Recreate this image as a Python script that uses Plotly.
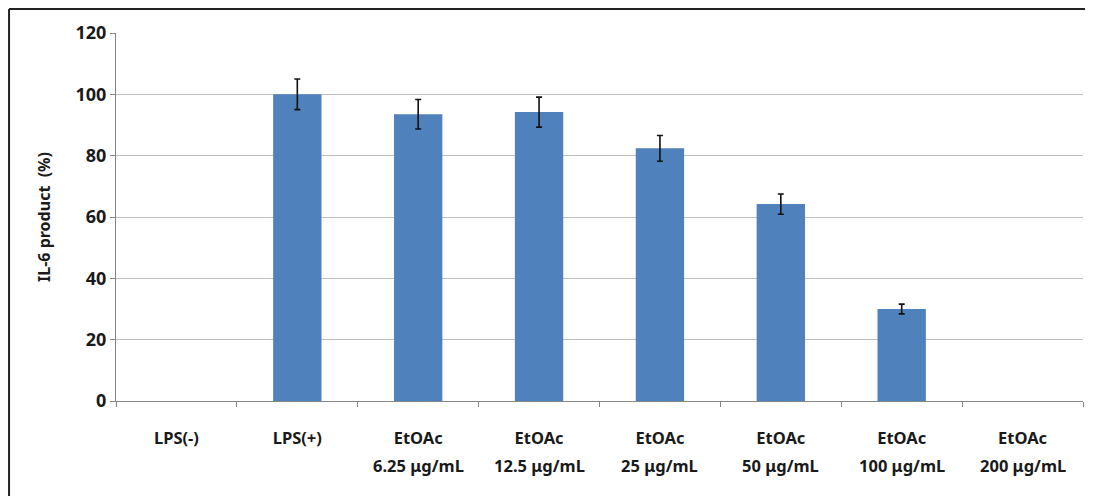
import plotly.graph_objects as go

# data
line1 = ["LPS(-)", "LPS(+)", "EtOAc", "EtOAc", "EtOAc", "EtOAc", "EtOAc", "EtOAc"]
line2 = ["", "", "6.25 μg/mL", "12.5 μg/mL", "25 μg/mL", "50 μg/mL", "100 μg/mL", "200 μg/mL"]
categories = ["LPS(-)", "LPS(+)", "EtOAc 6.25", "EtOAc 12.5", "EtOAc 25",
              "EtOAc 50", "EtOAc 100", "EtOAc 200"]
il6 = [0, 100, 93.5, 94.2, 82.4, 64.2, 30.0, 0]
err = [None, 5.0, 4.8, 4.9, 4.2, 3.3, 1.6, None]

FONT = "Noto Sans"
TXT = "#1a1a1a"

fig = go.Figure()
fig.add_bar(
    x=categories,
    y=il6,
    marker=dict(color="#4F81BD", line=dict(width=0),
                opacity=[1 if v > 0 else 0 for v in il6]),
    width=0.4,
)

# error bars only where the reference has them
has_err = [i for i, e in enumerate(err) if e is not None]
fig.add_scatter(
    x=[categories[i] for i in has_err],
    y=[il6[i] for i in has_err],
    mode="markers", marker=dict(size=1, opacity=0),
    error_y=dict(type="data", array=[err[i] for i in has_err], visible=True,
                 color="#111111", thickness=1.6, width=3),
    hoverinfo="skip",
)

# second line of x labels, placed under each category
for c, t in zip(categories, line2):
    if t:
        fig.add_annotation(x=c, y=-0.174, xref="x", yref="paper", text="<b>" + t + "</b>",
                           showarrow=False, yanchor="middle",
                           font=dict(family=FONT, size=16.5, color=TXT))

# frame that the original image shows (top and left edges)
fig.add_shape(type="line", xref="paper", yref="paper",
              x0=-0.1106, x1=1.02, y0=1.065, y1=1.065,
              line=dict(color="#222222", width=2))
fig.add_shape(type="line", xref="paper", yref="paper",
              x0=-0.1106, x1=-0.1106, y0=1.065, y1=-0.3,
              line=dict(color="#222222", width=2))

# the page adds an 8px body margin, so the figure is sized to fit inside it
fig.update_layout(
    width=1085, height=488,
    margin=dict(l=108, r=10, t=25, b=95),
    paper_bgcolor="white", plot_bgcolor="white",
    showlegend=False,
    bargap=0.6,
    font=dict(family=FONT, color=TXT),
)
fig.update_xaxes(
    type="category",
    range=[-0.5, 7.5],
    automargin=False,
    tickvals=categories,
    ticktext=["<b>" + t + "</b>" for t in line1],
    tickfont=dict(family=FONT, size=16.5, color=TXT),
    ticklabelstandoff=22,
    showline=True, linecolor="#868686", linewidth=1,
    ticks="outside", ticklen=5, tickcolor="#868686",
    tickson="boundaries",
    showgrid=False,
)
fig.update_yaxes(
    range=[0, 120], dtick=20,
    automargin=False,
    tickfont=dict(family=FONT, size=18, color=TXT),
    tickprefix="<b>", ticksuffix="</b>",
    showline=True, linecolor="#868686", linewidth=1,
    ticks="outside", ticklen=5, tickcolor="#868686",
    showgrid=True, gridcolor="#BFBFBF", gridwidth=1,
    zeroline=False,
    title=dict(text="<b>IL-6 product  (%)</b>", font=dict(family=FONT, size=16, color=TXT),
               standoff=20),
)

fig.write_html("out.html")
